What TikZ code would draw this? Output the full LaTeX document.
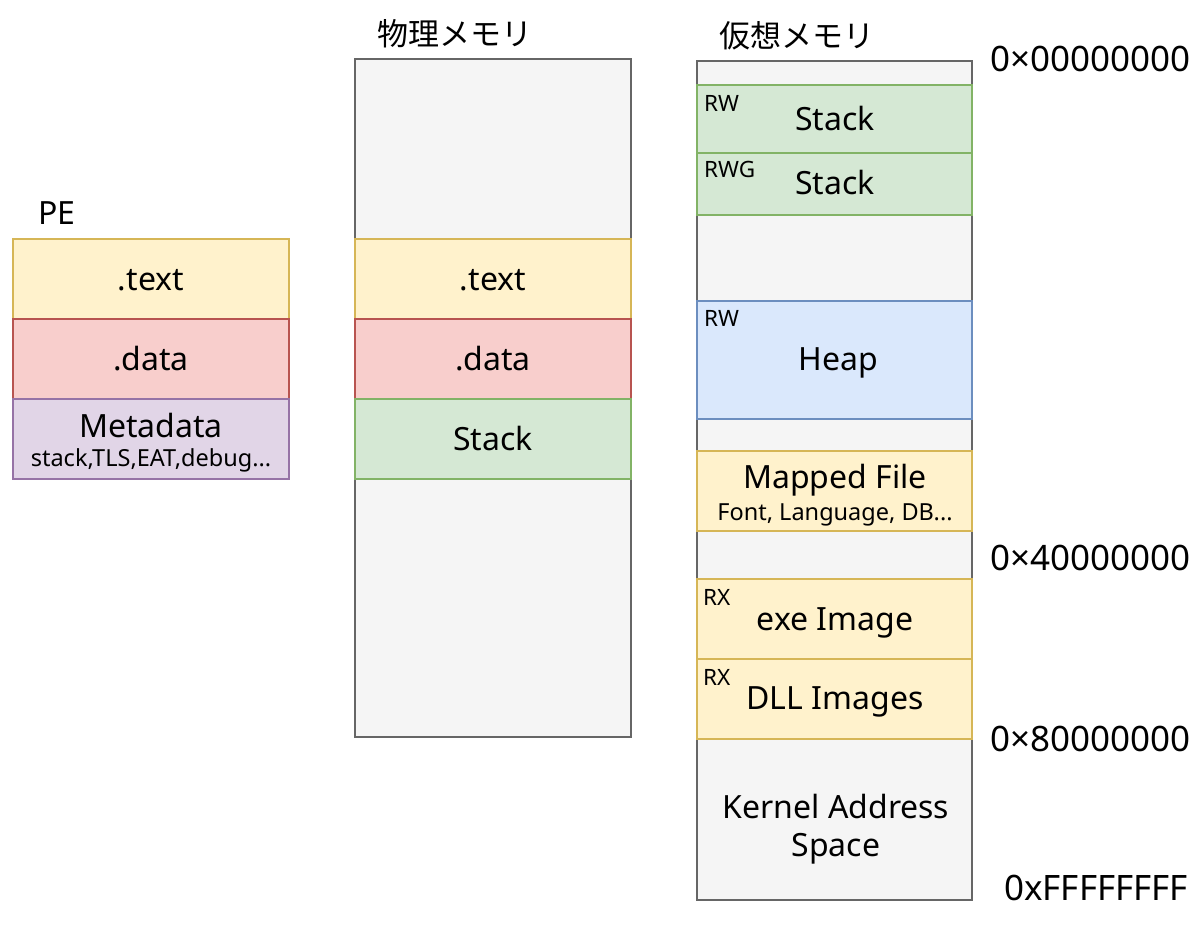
\documentclass[tikz,border=0pt]{standalone}
\usepackage{fontspec}
\setmainfont{Noto Sans}
\newfontfamily\cjk{Noto Sans CJK JP}
\definecolor{yfill}{HTML}{FFF2CC}\definecolor{ydraw}{HTML}{D6B656}
\definecolor{rfill}{HTML}{F8CECC}\definecolor{rdraw}{HTML}{B85450}
\definecolor{pfill}{HTML}{E1D5E7}\definecolor{pdraw}{HTML}{9673A6}
\definecolor{gfill}{HTML}{D5E8D4}\definecolor{gdraw}{HTML}{82B366}
\definecolor{bfill}{HTML}{DAE8FC}\definecolor{bdraw}{HTML}{6C8EBF}
\definecolor{kfill}{HTML}{F5F5F5}\definecolor{kdraw}{HTML}{666666}
\begin{document}
\begin{tikzpicture}[x=1pt,y=-1pt,
  region/.style={draw, line width=1.6pt, anchor=north west, inner sep=0pt, outer sep=0pt},
  ybox/.style={region, fill=yfill, draw=ydraw},
  rbox/.style={region, fill=rfill, draw=rdraw},
  pbox/.style={region, fill=pfill, draw=pdraw},
  gbox/.style={region, fill=gfill, draw=gdraw},
  bbox/.style={region, fill=bfill, draw=bdraw},
  kbox/.style={region, fill=kfill, draw=kdraw},
  txt/.style={inner sep=0pt, text depth=0pt},
  main/.style={txt, text height=22.8pt, font=\fontsize{32}{38}\selectfont},
  sub/.style={txt, text height=16.8pt, font=\fontsize{23.5}{28}\selectfont},
  perm/.style={txt, text height=16pt, font=\fontsize{22.5}{27}\selectfont, anchor=west},
  title/.style={font=\cjk\fontsize{31}{36}\selectfont, inner sep=0pt},
  addr/.style={txt, text height=25pt, font=\fontsize{35}{42}\selectfont, anchor=west}]
\useasboundingbox (0,0) rectangle (1204,924);
% ---- PE ----
\node[main, anchor=west] (peT) at (38,213) {PE};
\node[ybox, minimum width=276, minimum height=80] (pe1) at (13,239) {};
\node[rbox, minimum width=276, minimum height=80] (pe2) at (13,319) {};
\node[pbox, minimum width=276, minimum height=80] (pe3) at (13,399) {};
\node[main] (pe1t) at (151,279) {.text};
\node[main] (pe2t) at (151,359) {.data};
\node[main] (pe3t) at (151,426) {Metadata};
\node[sub] (pe3s) at (151,458) {stack,TLS,EAT,debug...};
% ---- Physical ----
\node[title] (phT) at (455,34) {物理メモリ};
\node[kbox, minimum width=276, minimum height=678] (ph) at (355,59) {};
\node[ybox, minimum width=276, minimum height=80] (ph1) at (355,239) {};
\node[rbox, minimum width=276, minimum height=80] (ph2) at (355,319) {};
\node[gbox, minimum width=276, minimum height=80] (ph3) at (355,399) {};
\node[main] (ph1t) at (493,279) {.text};
\node[main] (ph2t) at (493,359) {.data};
\node[main] (ph3t) at (493,439) {Stack};
% ---- Virtual ----
\node[title] (vmT) at (797,36) {仮想メモリ};
\node[kbox, minimum width=275, minimum height=839] (vm) at (697,61) {};
\node[gbox, minimum width=275, minimum height=68] (v1) at (697,85) {};
\node[gbox, minimum width=275, minimum height=62] (v2) at (697,153) {};
\node[bbox, minimum width=275, minimum height=118] (v3) at (697,301) {};
\node[ybox, minimum width=275, minimum height=80] (v4) at (697,451) {};
\node[ybox, minimum width=275, minimum height=80] (v5) at (697,579) {};
\node[ybox, minimum width=275, minimum height=80] (v6) at (697,659) {};
\node[main] (v1t) at (835,119) {Stack};
\node[perm] (v1p) at (704,103) {RW};
\node[main] (v2t) at (835,183) {Stack};
\node[perm] (v2p) at (704,169) {RWG};
\node[main] (v3t) at (838,359) {Heap};
\node[perm] (v3p) at (704,318) {RW};
\node[main] (v4t) at (835,477) {Mapped File};
\node[sub] (v4s) at (835,512) {Font, Language, DB...};
\node[main] (v5t) at (835,619) {exe Image};
\node[perm] (v5p) at (703,597) {RX};
\node[main] (v6t) at (835,698) {DLL Images};
\node[perm] (v6p) at (703,677) {RX};
\node[main] (kt1) at (836,807) {Kernel Address};
\node[main] (kt2) at (836,845) {Space};
% ---- Addresses ----
\node[addr] (a0) at (990,59) {0×00000000};
\node[addr] (a4) at (990,558) {0×40000000};
\node[addr] (a8) at (990,739) {0×80000000};
\node[addr] (af) at (1004,888) {0xFFFFFFFF};
\end{tikzpicture}
\end{document}
